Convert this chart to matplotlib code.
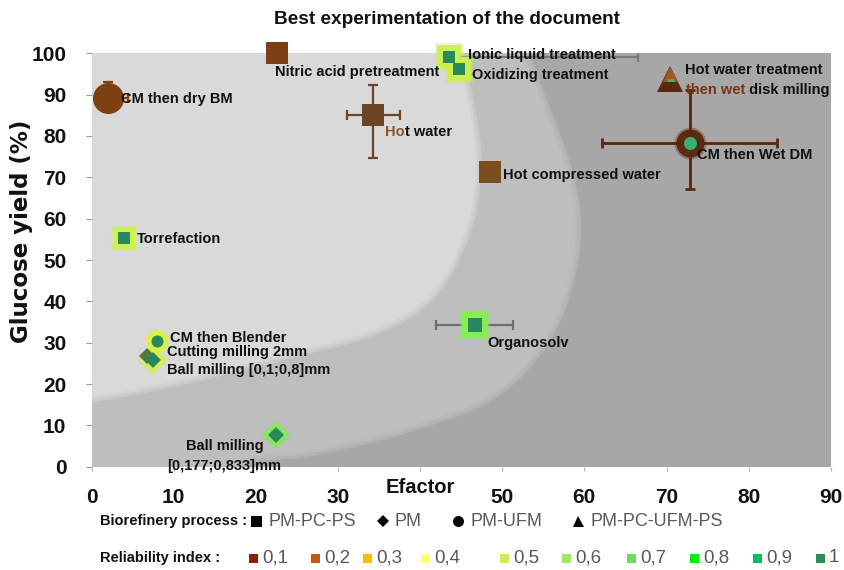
import matplotlib
matplotlib.use("Agg")
import matplotlib.pyplot as plt
import numpy as np
from matplotlib.patches import Polygon
from matplotlib.lines import Line2D
from matplotlib.transforms import offset_copy

# ---------------- data ----------------
labels = ["Nitric acid pretreatment", "CM then dry BM", "Hot water",
          "Ionic liquid treatment", "Oxidizing treatment",
          "Hot water treatment\nthen wet disk milling", "CM then Wet DM",
          "Hot compressed water", "Torrefaction", "CM then Blender",
          "Cutting milling 2mm", "Ball milling [0,1;0,8]mm", "Organosolv",
          "Ball milling\n[0,177;0,833]mm"]
efactor = [22.6, 2.0, 34.3, 43.5, 44.7, 70.4, 72.8, 48.5, 3.9, 8.0, 6.8, 7.5, 46.7, 22.5]
glucose = [100.0, 89.2, 85.1, 99.0, 96.3, 93.8, 78.2, 71.2, 55.4, 30.3, 26.8, 25.8, 34.3, 7.7]
process = ["PM-PC-PS", "PM-UFM", "PM-PC-PS", "PM-PC-PS", "PM-PC-PS",
           "PM-PC-UFM-PS", "PM-UFM", "PM-PC-PS", "PM-PC-PS", "PM-UFM",
           "PM", "PM", "PM-PC-PS", "PM"]
xerr_lo = [0, 0, 3.2, 0, 0, 0, 10.7, 0, 0, 0, 0, 0, 4.75, 0]
xerr_hi = [0, 2.4, 3.25, 23.0, 0, 0, 10.6, 0, 0, 0, 0, 0, 4.6, 0]
yerr_lo = [0, 0, 10.5, 0, 0, 0, 11.1, 0, 0, 0, 0, 0, 0, 0]
yerr_hi = [0, 3.9, 7.3, 0, 0, 0, 12.9, 0, 0, 0, 0, 0, 0, 0]

x_ticks = [0, 10, 20, 30, 40, 50, 60, 70, 80, 90]
x_tick_labels = ["0", "10", "20", "30", "", "50", "60", "70", "80", "90"]
y_ticks = [0, 10, 20, 30, 40, 50, 60, 70, 80, 90, 100]
process_names = ["PM-PC-PS", "PM", "PM-UFM", "PM-PC-UFM-PS"]
reliability_levels = ["0,1", "0,2", "0,3", "0,4", "0,5", "0,6", "0,7", "0,8", "0,9", "1"]

# ---------------- styles ----------------
SANS = ["Liberation Sans", "DejaVu Sans"]
marker_of = {"PM-PC-PS": "s", "PM": "D", "PM-UFM": "o", "PM-PC-UFM-PS": "^"}
reliability_colors = ["#8b2300", "#c55a11", "#f5c200", "#ffff66", "#ccee55",
                      "#a6e36a", "#6fdc5a", "#00ee00", "#00c060", "#2e8b57"]
TEAL = "#27895d"
face = ["#7d3f15", "#7e3f12", "#6b4525", TEAL, TEAL, "#5a2a0e", "#36b070",
        "#7a4e1f", TEAL, TEAL, "#4d7a3a", TEAL, TEAL, TEAL]
size_px = [23, 31, 23, 12, 12, 27, 13, 23, 12, 12, 11, 11, 14, 11]
glow = [None, None, None, "#c9f24a", "#c9f24a", None, "#5a260c", None,
        "#cdf24c", "#dcf23e", None, "#d4f24a", "#86ef50", "#86e85a"]
glow_px = [0, 0, 0, 24, 24, 0, 28, 0, 22, 21, 0, 18, 26, 19]
err_color = ["#7d3f15", "#7e3f12", "#6b4525", "#7a7a7a", TEAL, TEAL, "#5a260c",
             TEAL, TEAL, TEAL, TEAL, TEAL, "#6e6e6e", TEAL]
# per label line: offset in pixels from the marker (x right, y up)
label_off = [[(-2, -19)], [(13, -1)], [(12, -17)], [(19, 2.5)], [(13, -6.5)],
             [(15, 9), (16, -11)], [(7, -12)], [(13, -3)], [(13, -1.5)],
             [(12.5, 3.8)], [(20, 3.7)], [(14, -10)], [(12, -17.7)],
             [(-52, -11), (-52, -31)]]
label_ha = ["left"] * 13 + ["center"]
# coloured first letters (label index, line index) -> (prefix length, colour)
prefix_color = {(2, 0): (2, "#8a5626"), (5, 1): (8, "#7a3510")}
LABEL_FS = 10.5

PX = 0.72  # points per pixel at dpi 100

fig = plt.figure(figsize=(8.44, 5.70), dpi=100)
W, H = 844, 570
ax_l, ax_r, ax_t, ax_b = 91.5, 830.8, 53.3, 466.7
ax = fig.add_axes([ax_l / W, 1 - ax_b / H, (ax_r - ax_l) / W, (ax_b - ax_t) / H])
ax.set_xlim(0, 90)
ax.set_ylim(0, 100)
ax.set_facecolor("#a7a7a7")
for s in ax.spines.values():
    s.set_visible(False)
renderer = fig.canvas.get_renderer()

# ---------------- background gradient zones (decoration, figure pixels) ----------------
def smooth(pts, n=12):
    pts = np.asarray(pts, float)
    P = np.vstack([pts[0], pts, pts[-1]])
    out = []
    for i in range(1, len(P) - 2):
        p0, p1, p2, p3 = P[i - 1], P[i], P[i + 1], P[i + 2]
        for t in np.linspace(0, 1, n, endpoint=False):
            t2, t3 = t * t, t * t * t
            out.append(0.5 * ((2 * p1) + (-p0 + p2) * t + (2 * p0 - 5 * p1 + 4 * p2 - p3) * t2
                              + (-p0 + 3 * p1 - 3 * p2 + p3) * t3))
    out.append(pts[-1])
    return np.array(out)

def zone(boundary, corners, color, z, edges=()):
    curve = smooth(boundary)
    pts = np.vstack([curve, np.asarray(corners, float)])
    fx = (pts[:, 0] - ax_l) / (ax_r - ax_l)
    fy = (ax_b - pts[:, 1]) / (ax_b - ax_t)
    xy = np.column_stack([fx, fy])
    for ec, elw in edges:
        p = Polygon(xy, closed=True, transform=ax.transAxes, facecolor="none",
                    edgecolor=ec, lw=elw, zorder=z, joinstyle="round")
        ax.add_patch(p)
        p.set_clip_path(ax.patch)
    p = Polygon(xy, closed=True, transform=ax.transAxes, facecolor=color,
                edgecolor="none", zorder=z)
    ax.add_patch(p)
    p.set_clip_path(ax.patch)

medium_edge = [(520, 45), (545, 110), (565, 165), (575, 215), (572, 265),
               (555, 320), (525, 365), (485, 398), (430, 420), (360, 440),
               (300, 452), (247, 458), (225, 475)]
light_edge = [(456, 45), (468, 100), (476, 155), (472, 205), (460, 245),
              (440, 283), (410, 312), (365, 333), (313, 347), (250, 363),
              (180, 380), (120, 392), (85, 398)]
zone(medium_edge, [(85, 475), (85, 45)], "#bebebe", 0.1,
     edges=[("#b4b4b4", 8), ("#b9b9b9", 4)])
zone(light_edge, [(85, 45)], "#d9d9d9", 0.2,
     edges=[("#cacaca", 8), ("#d2d2d2", 4)])

# ---------------- marks ----------------
def put_label(text, x, y, dx, dy, ha, color, z):
    return ax.annotate(text, (x, y), xytext=(dx, dy), textcoords="offset pixels",
                       ha=ha, va="center", fontsize=LABEL_FS, fontweight="bold",
                       family=SANS, color=color, zorder=z, annotation_clip=False)

for i in range(len(labels)):
    mk = marker_of[process[i]]
    xl, xh, yl, yh = xerr_lo[i], xerr_hi[i], yerr_lo[i], yerr_hi[i]
    if xl or xh or yl or yh:
        lw = 2.0 if i == 6 else 1.6
        ax.errorbar([efactor[i]], [glucose[i]],
                    xerr=[[xl], [xh]] if (xl or xh) else None,
                    yerr=[[yl], [yh]] if (yl or yh) else None,
                    fmt="none", ecolor=err_color[i], elinewidth=lw,
                    capsize=3.5, capthick=lw, zorder=3)
    if glow[i]:
        ax.plot(efactor[i], glucose[i], marker=mk, ms=(glow_px[i] + 4) * PX,
                color=glow[i], alpha=0.35, mew=0, ls="none", zorder=4, clip_on=False)
        ax.plot(efactor[i], glucose[i], marker=mk, ms=glow_px[i] * PX,
                color=glow[i], alpha=0.95, mew=0, ls="none", zorder=4, clip_on=False)
    ax.plot(efactor[i], glucose[i], marker=mk, ms=size_px[i] * PX,
            color=face[i], mew=0, ls="none", zorder=5, clip_on=False)
    if mk == "^":
        tr_up = offset_copy(ax.transData, fig=fig, x=0, y=5, units="dots")
        ax.plot(efactor[i], glucose[i], marker="^", ms=15 * PX, color="#a5561e",
                mew=0, ls="none", zorder=6, transform=tr_up, clip_on=False)
        tr_g = offset_copy(ax.transData, fig=fig, x=0, y=-1, units="dots")
        ax.plot(efactor[i], glucose[i], marker="_", ms=7 * PX, color="#3cb371",
                mew=2.2, ls="none", zorder=6, transform=tr_g, clip_on=False)
    for li, (line, (dx, dy)) in enumerate(zip(labels[i].split("\n"), label_off[i])):
        if (i, li) in prefix_color:
            n, pc = prefix_color[(i, li)]
            first = put_label(line[:n], efactor[i], glucose[i], dx, dy, "left", pc, 7)
            wpx = first.get_window_extent(renderer).width
            put_label(line[n:], efactor[i], glucose[i], dx + wpx, dy, "left", "#111111", 7)
        else:
            put_label(line, efactor[i], glucose[i], dx, dy, label_ha[i], "#111111", 7)

# ---------------- axes decoration ----------------
ax.set_xticks(x_ticks)
ax.set_xticklabels(x_tick_labels)
ax.set_yticks(y_ticks)
ax.set_yticklabels([str(v) for v in y_ticks])
ax.tick_params(axis="y", length=4, color="#9a9a9a", pad=14)
ax.tick_params(axis="x", length=3, color="#b0b0b0", pad=12)
for t in ax.get_xticklabels() + ax.get_yticklabels():
    t.set_family(SANS)
    t.set_fontweight("bold")
    t.set_fontsize(15)
    t.set_color("#111111")

ax.annotate("Efactor", (40, 0), xytext=(0, -21), textcoords="offset pixels",
            ha="center", va="center", fontsize=14.5, fontweight="bold",
            family=SANS, color="#111111", annotation_clip=False)

fig.text(22 / W, 1 - 231 / H, "Glucose yield (%)", rotation=90, ha="center",
         va="center", fontsize=16.5, fontweight="bold",
         family=["DejaVu Sans"], color="#111111")
fig.text(447 / W, 1 - 19 / H, "Best experimentation of the document",
         ha="center", va="center", fontsize=13.7, fontweight="bold",
         family=SANS, color="#111111")

# ---------------- legends ----------------
row1_y = 1 - 521 / H
row2_y = 1 - 558 / H
fig.text(100 / W, row1_y, "Biorefinery process :", ha="left", va="center",
         fontsize=10.5, fontweight="bold", family=SANS, color="#111111")
fig.text(100 / W, row2_y, "Reliability index :", ha="left", va="center",
         fontsize=10.5, fontweight="bold", family=SANS, color="#111111")

proc_marker_px = [256, 383, 458, 578]
proc_ms = {"s": 11, "D": 8, "o": 11, "^": 11}
for name, xp in zip(process_names, proc_marker_px):
    mk = marker_of[name]
    fig.add_artist(Line2D([xp / W], [row1_y], transform=fig.transFigure,
                          marker=mk, ms=proc_ms[mk] * PX, color="black", mew=0,
                          ls="none"))
    fig.text((xp + 12) / W, row1_y, name, ha="left", va="center", fontsize=13,
             family=SANS, color="#595959")

rel_px = [253, 315, 367, 425, 504, 566, 631, 694, 757, 820]
for lvl, col, xp in zip(reliability_levels, reliability_colors, rel_px):
    fig.add_artist(Line2D([xp / W], [row2_y], transform=fig.transFigure,
                          marker="s", ms=9 * PX, color=col, mew=0, ls="none"))
    fig.text((xp + 9) / W, row2_y, lvl, ha="left", va="center", fontsize=13.5,
             family=SANS, color="#595959")

fig.savefig("out.png", dpi=100)
